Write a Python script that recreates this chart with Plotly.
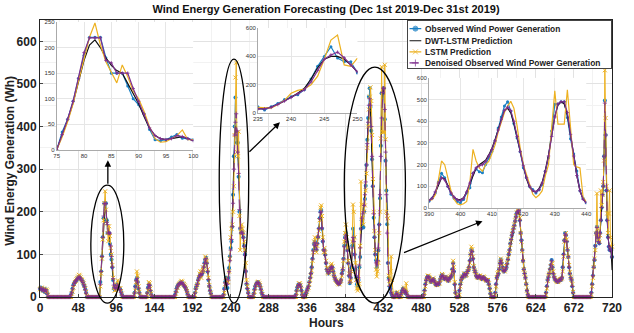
import plotly.graph_objects as go

BLUE = '#1a80c4'
ORANGE = '#EDB120'
PURPLE = '#7E2F8E'
BLACK = '#111111'
FONT = 'Liberation Sans, Arial, sans-serif'

# ---------------- tick labels ----------------
main_xticks = list(range(0, 721, 48))
main_yticks = [0, 100, 200, 300, 400, 500, 600]
ins1_xticks = [75, 80, 85, 90, 95, 100]
ins1_yticks = [0, 50, 100, 150, 200, 250]
ins2_xticks = [235, 240, 245, 250]
ins2_yticks = [0, 200, 400, 600]
ins3_xticks = [390, 400, 410, 420, 430, 440]
ins3_yticks = [0, 100, 200, 300, 400, 500, 600]

series_names = ['Observed Wind Power Generation', 'DWT-LSTM Prediction',
                'LSTM Prediction', 'Denoised Observed Wind Power Generation']

# ---------------- inset 1 (hours 75-100) ----------------
ins1_hours = list(range(75, 101))
ins1_obs = [0, 35, 60, 95, 140, 185, 220, 220, 220, 180, 150, 150, 150, 125, 100, 88, 70, 40, 20, 18, 20, 25, 30, 23, 22, 20]
ins1_dwt = [0, 28, 58, 92, 135, 175, 205, 215, 200, 180, 165, 155, 150, 130, 108, 90, 65, 42, 28, 22, 20, 22, 25, 26, 22, 18]
ins1_lstm = [0, 25, 55, 90, 135, 180, 220, 248, 205, 172, 150, 131, 166, 143, 115, 100, 75, 45, 22, 15, 16, 22, 28, 39, 20, 20]
ins1_den = [0, 30, 60, 95, 140, 190, 219, 219, 219, 175, 170, 150, 150, 150, 120, 95, 70, 43, 28, 22, 20, 22, 28, 26, 22, 18]

# ---------------- inset 2 (hours 235-250) ----------------
ins2_hours = list(range(235, 251))
ins2_obs = [45, 21, 45, 68, 95, 115, 130, 165, 240, 330, 400, 468, 388, 362, 362, 282]
ins2_dwt = [30, 32, 42, 60, 85, 110, 140, 175, 240, 320, 380, 400, 400, 380, 340, 290]
ins2_lstm = [40, 35, 35, 60, 90, 140, 160, 170, 200, 260, 380, 515, 550, 340, 330, 388]
ins2_den = [30, 30, 40, 60, 85, 110, 135, 165, 220, 300, 380, 410, 430, 390, 340, 290]

# ---------------- inset 3 (hours 390-440) ----------------
ins3_hours = list(range(390, 441))
ins3_obs = [32, 45, 70, 120, 160, 140, 100, 64, 45, 30, 25, 40, 70, 94, 160, 180, 168, 163, 201, 230,
            261, 310, 369, 420, 470, 490, 446, 390, 323, 260, 186, 140, 100, 86, 70, 85, 109, 170, 232, 355,
            478, 480, 490, 490, 417, 320, 250, 171, 80, 45, 25]
ins3_dwt = [35, 45, 70, 110, 140, 135, 105, 72, 50, 40, 38, 48, 75, 115, 155, 185, 200, 210, 220, 245,
            275, 315, 360, 410, 450, 460, 440, 390, 325, 255, 190, 135, 95, 78, 75, 90, 120, 175, 245, 330,
            420, 475, 490, 480, 430, 340, 240, 150, 80, 40, 25]
ins3_lstm = [35, 38, 60, 130, 217, 200, 140, 80, 40, 20, 15, 20, 31, 120, 271, 217, 185, 170, 200, 215,
             250, 290, 350, 400, 440, 470, 492, 460, 380, 277, 200, 155, 110, 64, 48, 60, 80, 150, 200, 372,
             540, 387, 387, 387, 545, 370, 200, 190, 185, 50, 30]
ins3_den = [35, 45, 75, 115, 140, 130, 100, 70, 50, 38, 35, 45, 75, 115, 160, 185, 195, 200, 215, 240,
            270, 310, 360, 410, 450, 465, 450, 400, 330, 260, 195, 140, 100, 80, 75, 85, 115, 170, 240, 330,
            420, 480, 490, 490, 440, 340, 240, 150, 80, 40, 25]

# ---------------- main series, hours outside the insets ----------------
hours = list(range(0, 721))

obs_0_74 = ([20, 22, 18, 15, 20, 16, 12, 18, 15, 8, 0] + [0] * 27 +
            [0, 5, 10, 20, 28, 32, 35, 38, 40, 42, 45, 48, 46, 44, 40, 38, 35, 30, 25, 18, 10, 0] + [0] * 15)
obs_101_234 = ([18, 12, 6, 0] + [0] * 13 + [0, 10, 25, 40, 45, 35, 20, 10, 0] + [0] * 8 +
               [10, 22, 30, 28, 15, 5, 0] + [0] * 28 +
               [5, 12, 20, 25, 28, 30, 32, 34, 35, 33, 30, 28, 25, 22, 18, 12, 6, 0] + [0] * 7 +
               [10, 20, 25, 30, 40, 45, 50, 55, 50, 55, 60, 70, 80, 88, 92, 80, 60, 40, 25, 15, 8, 0] + [0] * 13 +
               [0, 5, 20, 35, 45])
obs_251_389 = ([200, 160, 150, 155, 150, 140, 120, 100, 60, 30, 20, 10, 0] + [0] * 5 +
               [8, 18, 25, 30, 33, 35, 33, 30, 25, 18, 10, 5, 0] + [0] * 40 +
               [5, 15, 22, 28, 30, 30, 25, 15, 5, 0, 0] +
               [0, 5, 10, 15, 20, 25, 35, 45, 55, 70, 90, 110, 125, 130, 120, 110, 125, 140, 160, 185, 200, 204] +
               [160, 130, 110, 110, 100, 80, 65, 60, 55, 60, 65, 70, 72, 70, 60, 50, 45, 40, 38, 35, 32, 30, 32, 35] +
               [40, 55, 63, 90, 120, 140, 150, 130, 110, 80, 50])
obs_441_720 = ([20, 10, 5, 0, 0, 0, 0] + [5, 10, 5, 0, 0, 0, 5, 10, 15, 20, 15, 10, 15, 10, 5, 0] + [0] * 19 +
               [5, 15, 30, 40, 45, 48, 47, 45, 40, 35, 38, 40, 42, 38, 35, 30, 28, 30, 32, 30,
                35, 42, 48, 52, 50, 45, 42, 45, 47, 42, 40, 38, 42, 45, 47, 50, 65, 80, 60, 30, 10, 0, 0, 0, 0] +
               [15, 30, 40, 47, 45, 50, 55, 52, 50, 55, 60, 63, 70, 85, 100, 110, 108, 90, 70, 63,
                58, 50, 47, 45, 47, 50, 47, 45, 42, 45, 47, 45, 42, 40, 38, 40, 38, 30, 20, 8, 0, 0, 0, 0, 0] +
               [10, 30, 45, 50, 55, 65, 80, 88, 80, 70, 63, 60, 62, 65, 70, 78, 88, 100, 110, 125,
                135, 145, 152, 160, 168, 178, 188, 196, 200, 202, 204, 180, 150, 133, 110, 85, 65, 55, 45, 30, 15, 5, 0] +
               [0] * 21 +
               [10, 25, 40, 47, 55, 65, 75, 87, 70, 55, 47, 42, 40, 38, 36, 36, 38, 40, 42, 40,
                45, 70, 100, 133, 150, 145, 130, 110, 94, 70, 55, 45, 40, 25, 10, 0] +
               [0] * 21 +
               [10, 30, 50, 70, 87, 120, 150, 165, 140, 130, 126, 150, 180, 210, 240, 260, 330, 461, 380, 250,
                180, 140, 118, 110, 115, 110, 94])

lstm_0_74 = ([18, 20, 22, 18, 15, 20, 16, 12, 18, 15, 5] + [0] * 27 +
             [0, 0, 8, 12, 22, 30, 35, 38, 42, 44, 48, 52, 50, 46, 42, 40, 36, 32, 26, 20, 12, 2] + [0] * 15)
lstm_101_234 = ([20, 14, 8, 0] + [0] * 13 + [0, 5, 15, 35, 60, 50, 25, 12, 2] + [0] * 8 +
                [5, 15, 35, 32, 20, 8, 0] + [0] * 28 +
                [0, 8, 15, 22, 27, 30, 32, 35, 38, 36, 32, 30, 27, 24, 20, 14, 8, 0] + [0] * 7 +
                [5, 15, 25, 30, 35, 45, 55, 60, 45, 60, 70, 60, 75, 95, 90, 85, 65, 45, 28, 18, 10, 0] + [0] * 13 +
                [0, 0, 10, 30, 45])
lstm_251_389 = ([190, 110, 160, 170, 160, 150, 130, 110, 80, 40, 25, 12, 0] + [0] * 5 +
                [5, 12, 22, 28, 32, 35, 36, 32, 28, 20, 12, 6, 0] + [0] * 40 +
                [0, 10, 20, 26, 32, 32, 28, 18, 8, 0, 0] +
                [0, 0, 8, 12, 18, 22, 30, 40, 50, 62, 85, 105, 130, 140, 125, 105, 120, 140, 155, 180, 210, 215] +
                [190, 140, 105, 115, 105, 85, 68, 58, 55, 58, 65, 75, 78, 72, 62, 52, 45, 40, 38, 35, 32, 30, 30, 35] +
                [38, 50, 65, 85, 130, 150, 170, 140, 115, 85, 55])
lstm_441_720 = ([60, 95, 40, 10, 0, 0, 0] + [0, 8, 12, 5, 0, 0, 0, 5, 12, 18, 22, 15, 12, 32, 10, 0] + [0] * 19 +
                [0, 10, 25, 38, 45, 50, 50, 47, 42, 36, 35, 40, 44, 40, 36, 32, 28, 28, 32, 32,
                 32, 40, 48, 54, 52, 46, 42, 44, 48, 45, 40, 38, 40, 45, 48, 52, 60, 85, 70, 35, 12, 2, 0, 0, 0] +
                [5, 25, 38, 45, 48, 48, 55, 55, 50, 52, 60, 65, 68, 80, 100, 118, 112, 95, 72, 62,
                 58, 52, 48, 45, 45, 50, 50, 46, 42, 44, 48, 46, 42, 40, 38, 40, 40, 32, 22, 10, 0, 0, 0, 0, 0] +
                [5, 25, 45, 55, 58, 65, 78, 90, 85, 72, 65, 62, 60, 65, 72, 80, 90, 102, 108, 122,
                 135, 148, 155, 162, 170, 180, 190, 198, 205, 208, 210, 185, 150, 130, 108, 85, 65, 55, 45, 30, 15, 5, 0] +
                [0] * 21 +
                [5, 20, 38, 50, 55, 62, 72, 80, 79, 60, 50, 44, 40, 38, 36, 35, 37, 40, 42, 42,
                 44, 60, 95, 130, 141, 150, 135, 112, 95, 75, 58, 46, 40, 30, 12, 0] +
                [0] * 21 +
                [5, 25, 45, 70, 90, 110, 149, 243, 160, 135, 130, 145, 250, 215, 240, 270, 320, 532, 420, 260,
                 196, 150, 196, 250, 140, 120, 118])

dwt_0_74 = ([18, 20, 19, 17, 17, 16, 15, 15, 13, 8, 2] + [0] * 27 +
            [0, 4, 10, 18, 26, 31, 35, 38, 40, 42, 44, 46, 45, 43, 40, 37, 33, 28, 22, 15, 8, 1] + [0] * 15)
dwt_101_234 = ([16, 10, 5, 0] + [0] * 13 + [0, 8, 22, 36, 42, 35, 22, 10, 0] + [0] * 8 +
               [8, 20, 28, 27, 16, 6, 0] + [0] * 28 +
               [4, 11, 18, 24, 27, 30, 32, 33, 34, 32, 30, 27, 24, 21, 17, 11, 5, 0] + [0] * 7 +
               [8, 17, 24, 30, 38, 44, 49, 52, 52, 55, 60, 68, 77, 85, 88, 78, 60, 42, 27, 16, 8, 0] + [0] * 13 +
               [0, 4, 17, 32, 40])
dwt_251_389 = ([210, 165, 152, 150, 148, 138, 118, 96, 62, 34, 20, 9, 0] + [0] * 5 +
               [6, 16, 24, 29, 32, 34, 33, 30, 25, 18, 11, 5, 0] + [0] * 40 +
               [4, 13, 21, 27, 29, 29, 24, 15, 6, 0, 0] +
               [0, 4, 9, 14, 19, 25, 33, 43, 54, 68, 88, 106, 120, 126, 120, 115, 125, 142, 162, 182, 195, 198] +
               [165, 132, 112, 105, 96, 80, 66, 60, 57, 60, 64, 68, 70, 68, 60, 52, 46, 41, 38, 35, 33, 31, 32, 35] +
               [40, 52, 64, 88, 115, 135, 142, 128, 106, 78, 52])
dwt_441_720 = ([18, 10, 5, 2, 0, 0, 0] + [4, 8, 5, 1, 0, 0, 4, 9, 14, 18, 15, 11, 13, 10, 5, 0] + [0] * 19 +
               [4, 14, 28, 38, 44, 47, 46, 44, 40, 36, 37, 39, 41, 38, 35, 31, 29, 30, 31, 31,
                34, 41, 47, 50, 49, 45, 43, 45, 46, 43, 40, 39, 41, 44, 47, 52, 63, 74, 58, 30, 10, 1, 0, 0, 0] +
               [14, 28, 39, 45, 46, 50, 53, 52, 51, 55, 59, 63, 70, 84, 98, 106, 104, 88, 71, 62,
                57, 51, 47, 46, 47, 49, 47, 45, 43, 45, 46, 45, 42, 40, 39, 39, 37, 30, 19, 8, 0, 0, 0, 0, 0] +
               [9, 28, 43, 50, 56, 66, 78, 85, 80, 71, 64, 61, 62, 65, 70, 78, 88, 99, 110, 123,
                134, 144, 151, 159, 167, 177, 186, 194, 198, 200, 198, 176, 148, 130, 108, 84, 65, 54, 44, 30, 15, 5, 0] +
               [0] * 21 +
               [9, 24, 38, 46, 54, 63, 73, 82, 70, 56, 47, 42, 40, 38, 36, 36, 38, 40, 41, 40,
                45, 68, 98, 128, 145, 142, 128, 109, 92, 70, 55, 45, 39, 25, 10, 0] +
               [0] * 21 +
               [9, 28, 48, 68, 86, 118, 145, 158, 140, 130, 128, 150, 178, 205, 235, 262, 330, 440, 375, 255,
                185, 142, 120, 110, 112, 100, 63])

den_0_74 = ([19, 21, 18, 16, 19, 16, 13, 17, 14, 7, 0] + [0] * 27 +
            [0, 5, 11, 19, 27, 32, 35, 38, 40, 42, 45, 47, 46, 44, 40, 38, 34, 29, 24, 17, 9, 0] + [0] * 15)
den_101_234 = ([17, 11, 5, 0] + [0] * 13 + [0, 9, 24, 38, 43, 35, 21, 10, 0] + [0] * 8 +
               [9, 21, 29, 27, 15, 5, 0] + [0] * 28 +
               [5, 12, 19, 24, 28, 30, 32, 33, 34, 33, 30, 28, 25, 22, 17, 12, 6, 0] + [0] * 7 +
               [9, 18, 25, 30, 39, 45, 50, 53, 51, 55, 61, 70, 79, 87, 90, 79, 60, 41, 26, 15, 8, 0] + [0] * 13 +
               [0, 5, 18, 33, 42])
den_251_389 = ([205, 162, 150, 152, 149, 139, 119, 98, 61, 32, 20, 9, 0] + [0] * 5 +
               [7, 17, 25, 30, 33, 34, 33, 30, 25, 18, 10, 5, 0] + [0] * 40 +
               [5, 14, 22, 27, 30, 29, 24, 15, 5, 0, 0] +
               [0, 5, 10, 15, 20, 25, 34, 44, 55, 70, 89, 108, 122, 128, 121, 112, 125, 141, 161, 184, 198, 200] +
               [162, 131, 111, 108, 98, 80, 65, 60, 56, 60, 65, 69, 71, 69, 60, 51, 45, 40, 38, 35, 32, 30, 32, 35] +
               [40, 54, 64, 89, 118, 138, 145, 129, 108, 79, 50])
den_441_720 = ([19, 10, 5, 1, 0, 0, 0] + [5, 9, 5, 0, 0, 0, 5, 10, 15, 19, 15, 10, 14, 10, 5, 0] + [0] * 19 +
               [5, 15, 29, 39, 45, 48, 47, 45, 40, 36, 38, 40, 42, 38, 35, 30, 28, 30, 32, 30,
                35, 42, 48, 51, 50, 45, 42, 45, 47, 42, 40, 38, 42, 45, 47, 51, 65, 78, 60, 30, 10, 0, 0, 0, 0] +
               [15, 29, 40, 46, 46, 50, 54, 52, 50, 55, 60, 63, 70, 85, 100, 108, 106, 90, 70, 63,
                58, 50, 47, 45, 47, 50, 47, 45, 42, 45, 47, 45, 42, 40, 38, 40, 38, 30, 20, 8, 0, 0, 0, 0, 0] +
               [10, 30, 45, 50, 55, 65, 79, 86, 80, 70, 63, 60, 62, 65, 70, 78, 88, 100, 110, 125,
                135, 145, 152, 160, 168, 178, 188, 196, 200, 202, 202, 180, 150, 133, 110, 85, 65, 55, 45, 30, 15, 5, 0] +
               [0] * 21 +
               [10, 25, 40, 47, 55, 65, 75, 85, 70, 55, 47, 42, 40, 38, 36, 36, 38, 40, 42, 40,
                45, 70, 100, 132, 148, 145, 130, 110, 94, 70, 55, 45, 40, 25, 10, 0] +
               [0] * 21 +
               [10, 30, 50, 70, 87, 120, 150, 163, 140, 130, 126, 150, 180, 210, 240, 260, 330, 455, 380, 250,
                180, 140, 118, 110, 115, 110, 94])

obs_main = obs_0_74 + ins1_obs + obs_101_234 + ins2_obs + obs_251_389 + ins3_obs + obs_441_720
dwt_main = dwt_0_74 + ins1_dwt + dwt_101_234 + ins2_dwt + dwt_251_389 + ins3_dwt + dwt_441_720
lstm_main = lstm_0_74 + ins1_lstm + lstm_101_234 + ins2_lstm + lstm_251_389 + ins3_lstm + lstm_441_720
den_main = den_0_74 + ins1_den + den_101_234 + ins2_den + den_251_389 + ins3_den + den_441_720
for s in (obs_main, dwt_main, lstm_main, den_main):
    assert len(s) == len(hours), len(s)

fig = go.Figure()


def add_four(xs, obs, dwt, lstm, den, xa, ya, main):
    lw = 1 if main else 1.2
    fig.add_trace(go.Scatter(x=xs, y=obs, mode='lines+markers', xaxis=xa, yaxis=ya, cliponaxis=not main,
                             line=dict(color=BLUE, width=lw),
                             marker=dict(symbol='circle', size=4 if main else 3, color=BLUE)))
    fig.add_trace(go.Scatter(x=xs, y=dwt, mode='lines', xaxis=xa, yaxis=ya, cliponaxis=not main,
                             line=dict(color=BLACK, width=lw)))
    fig.add_trace(go.Scatter(x=xs, y=lstm, mode='lines+markers' if main else 'lines', xaxis=xa, yaxis=ya,
                             cliponaxis=not main, line=dict(color=ORANGE, width=lw),
                             marker=dict(symbol='x-thin', size=4, line=dict(width=1, color=ORANGE))))
    fig.add_trace(go.Scatter(x=xs, y=den, mode='lines+markers', xaxis=xa, yaxis=ya, cliponaxis=not main,
                             line=dict(color=PURPLE, width=lw, dash='dash' if main else 'solid'),
                             marker=dict(symbol='cross-thin', size=3 if main else 2.5, color=PURPLE,
                                         line=dict(width=0.8, color=PURPLE))))


add_four(hours, obs_main, dwt_main, lstm_main, den_main, 'x', 'y', True)
add_four(ins1_hours, ins1_obs, ins1_dwt, ins1_lstm, ins1_den, 'x2', 'y2', False)
add_four(ins2_hours, ins2_obs, ins2_dwt, ins2_lstm, ins2_den, 'x3', 'y3', False)
add_four(ins3_hours, ins3_obs, ins3_dwt, ins3_lstm, ins3_den, 'x4', 'y4', False)

# legend samples drawn in a small box subplot (units: pixels inside box)
leg_rows = [8, 20, 31, 42]
leg_colors = [BLUE, BLACK, ORANGE, PURPLE]
leg_symbols = ['circle', 'circle', 'x-thin', 'cross-thin']
for i, (ry, col) in enumerate(zip(leg_rows, leg_colors)):
    sz = [0, 0, 0] if i == 1 else [0, 5, 0]
    fig.add_trace(go.Scatter(x=[2, 8, 14], y=[ry] * 3, mode='lines+markers', xaxis='x5', yaxis='y5',
                             line=dict(color=col, width=1.2, dash='dash' if i == 3 else 'solid'),
                             marker=dict(symbol=leg_symbols[i], size=sz, color=col, line=dict(width=1, color=col))))

ins_tick = dict(size=6, color='#333', family=FONT)


def inset_axes(xdom, ydom, xr, yr, xt, yt, ya):
    xa = dict(domain=xdom, range=xr, anchor=ya, tickvals=xt, tickfont=ins_tick, showgrid=True,
              gridcolor='#e6e6e6', showline=True, linecolor='#aaaaaa', linewidth=0.8, zeroline=False,
              ticks='', fixedrange=True)
    ya_ = dict(domain=ydom, range=yr, tickvals=yt, tickfont=ins_tick, showgrid=True,
               gridcolor='#e6e6e6', showline=True, linecolor='#aaaaaa', linewidth=0.8, zeroline=False,
               ticks='', fixedrange=True)
    return xa, ya_


x2, y2 = inset_axes([0.0292, 0.268], [0.531, 0.993], [75, 100], [0, 250], ins1_xticks, ins1_yticks, 'y2')
x3, y3 = inset_axes([0.381, 0.555], [0.664, 0.971], [235, 250], [0, 600], ins2_xticks, ins2_yticks, 'y3')
x4, y4 = inset_axes([0.680, 0.955], [0.321, 0.791], [390, 440], [0, 600], ins3_xticks, ins3_yticks, 'y4')
y2['anchor'] = 'x2'
y3['anchor'] = 'x3'
y4['anchor'] = 'x4'

main_tick = dict(size=12, color='#222', family=FONT, weight='bold')

annotations = [
    dict(text='Hours', x=0.5, y=-0.094, xref='paper', yref='paper', showarrow=False,
         font=dict(size=12, color='#222', family=FONT, weight='bold'), yanchor='middle'),
    dict(text='Wind Energy Generation (Wh)', x=-0.0515, y=0.49, xref='paper', yref='paper', showarrow=False,
         textangle=-90, font=dict(size=12, color='#222', family=FONT, weight='bold'), xanchor='center',
         yanchor='middle'),
    # arrows
    dict(x=85.4, y=321, xref='x', yref='y', ax=0, ay=25, showarrow=True, arrowhead=2, arrowsize=1,
         arrowwidth=1.3, arrowcolor='black', text=''),
    dict(x=302, y=410, xref='x', yref='y', ax=-32, ay=31, showarrow=True, arrowhead=2, arrowsize=1,
         arrowwidth=1.3, arrowcolor='black', text=''),
    dict(x=557, y=178, xref='x', yref='y', ax=-80, ay=32, showarrow=True, arrowhead=2, arrowsize=1,
         arrowwidth=1.3, arrowcolor='black', text=''),
]
for ry, name in zip(leg_rows, series_names):
    annotations.append(dict(text=name, x=15.5, y=ry, xref='x5', yref='y5', xanchor='left', yanchor='middle',
                            showarrow=False, font=dict(size=8.4, color='#222', family=FONT, weight='bold')))

shapes = [
    dict(type='circle', xref='x', yref='paper', x0=64, x1=105.5, y0=-0.022, y1=0.404,
         line=dict(color='black', width=1.3)),
    dict(type='circle', xref='x', yref='paper', x0=225.6, x1=262.7, y0=-0.022, y1=0.859,
         line=dict(color='black', width=1.3)),
    dict(type='circle', xref='x', yref='paper', x0=383, x1=460, y0=-0.022, y1=0.830,
         line=dict(color='black', width=1.3)),
]

fig.update_layout(
    width=634, height=333,
    margin=dict(l=40, r=12, t=20, b=36),
    paper_bgcolor='white', plot_bgcolor='white',
    showlegend=False,
    font=dict(family=FONT),
    title=dict(text='Wind Energy Generation Forecasting (Dec 1st 2019-Dec 31st 2019)', x=0.5, xref='paper',
               xanchor='center', y=1 - 9.5 / 333, yref='container', yanchor='middle',
               font=dict(size=11, color='#111', family=FONT, weight='bold')),
    xaxis=dict(range=[0, 720], tickvals=main_xticks, tickfont=main_tick, showgrid=True, gridcolor='#e2e2e2',
               showline=True, linecolor='#222', linewidth=1, mirror=True, ticks='inside', ticklen=3,
               zeroline=False, minor=dict(dtick=24, showgrid=True, gridcolor='#f2f2f2')),
    yaxis=dict(range=[0, 650], tickvals=main_yticks, tickfont=main_tick, showgrid=True, gridcolor='#e2e2e2',
               showline=True, linecolor='#222', linewidth=1, mirror=True, ticks='inside', ticklen=3,
               zeroline=False, minor=dict(dtick=50, showgrid=True, gridcolor='#f2f2f2')),
    xaxis2=x2, yaxis2=y2, xaxis3=x3, yaxis3=y3, xaxis4=x4, yaxis4=y4,
    xaxis5=dict(domain=[0.6426, 0.999], range=[0, 208], anchor='y5', showgrid=False, zeroline=False,
                showticklabels=False, ticks='', showline=True, mirror=True, linecolor='#444', linewidth=1,
                fixedrange=True),
    yaxis5=dict(domain=[0.8267, 0.998], range=[47, 0], anchor='x5', showgrid=False, zeroline=False,
                showticklabels=False, ticks='', showline=True, mirror=True, linecolor='#444', linewidth=1,
                fixedrange=True),
    annotations=annotations,
    shapes=shapes,
)

fig.write_html('out.html')
